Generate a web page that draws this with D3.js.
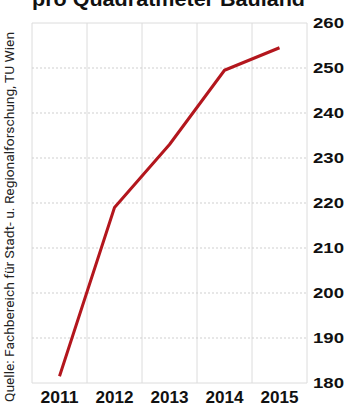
<!DOCTYPE html>
<html>
<head>
<meta charset="utf-8">
<script src="https://cdn.jsdelivr.net/npm/d3@7"></script>
<style>
  html, body { margin: 0; padding: 0; background: #fff; }
  svg { display: block; }
</style>
</head>
<body>
<script>
const years = ["2011", "2012", "2013", "2014", "2015"];
const values = [181.5, 219, 233, 249.5, 254.5];
const yTicks = [180, 190, 200, 210, 220, 230, 240, 250, 260];
const titleText = "pro Quadratmeter Bauland";
const sourceText = "Quelle: Fachbereich für Stadt- u. Regionalforschung, TU Wien";

const W = 348, H = 404;
const plot = { left: 32, right: 307, top: 23, bottom: 383 };

const svg = d3.select("body").append("svg").attr("width", W).attr("height", H);

const x = d3.scaleBand().domain(years).range([plot.left, plot.right]);
const y = d3.scaleLinear().domain([180, 260]).range([plot.bottom, plot.top]);

// vertical grid (band edges)
const edges = years.map(d => x(d)).concat([plot.right]);
svg.append("g").selectAll("line").data(edges).join("line")
  .attr("x1", d => d).attr("x2", d => d)
  .attr("y1", plot.top).attr("y2", plot.bottom)
  .attr("stroke", "#dcdcdc").attr("stroke-width", 1);

// horizontal grid
svg.append("g").selectAll("line").data(yTicks).join("line")
  .attr("x1", plot.left).attr("x2", plot.right)
  .attr("y1", d => y(d)).attr("y2", d => y(d))
  .attr("stroke", d => (d === 180 || d === 260) ? "#dcdcdc" : "#cfcfcf")
  .attr("stroke-dasharray", d => (d === 180 || d === 260) ? null : "2,2")
  .attr("stroke-width", 1);

// right axis labels
const yAxis = d3.axisRight(y).tickValues(yTicks).tickSize(0).tickPadding(0).tickFormat(d3.format("d"));
const ya = svg.append("g").attr("transform", `translate(313,0)`).call(yAxis);
ya.select(".domain").remove();
ya.selectAll("text")
  .attr("font-family", "'Liberation Sans', Arial, sans-serif")
  .attr("font-weight", "900").attr("font-size", 15)
  .attr("fill", "#111")
  .attr("textLength", 31).attr("lengthAdjust", "spacingAndGlyphs");

// bottom axis labels
const xAxis = d3.axisBottom(x).tickSize(0).tickPadding(0);
const xa = svg.append("g").attr("transform", `translate(0,${H - 15})`).call(xAxis);
xa.select(".domain").remove();
xa.selectAll("text")
  .attr("dy", 0).attr("y", 14)
  .attr("font-family", "'Liberation Sans', Arial, sans-serif")
  .attr("font-weight", "900").attr("font-size", 16)
  .attr("fill", "#111")
  .attr("textLength", 38).attr("lengthAdjust", "spacingAndGlyphs");

// line
const line = d3.line()
  .x((d, i) => x(years[i]) + x.bandwidth() / 2)
  .y(d => y(d));
svg.append("path").datum(values)
  .attr("d", line)
  .attr("fill", "none")
  .attr("stroke", "#b3161d")
  .attr("stroke-width", 3)
  .attr("stroke-linejoin", "round");

// title (clipped at top, as in the reference)
svg.append("text")
  .attr("x", 32).attr("y", 6)
  .attr("font-family", "'Liberation Sans', Arial, sans-serif")
  .attr("font-weight", "900").attr("font-size", 21)
  .attr("fill", "#111")
  .attr("textLength", 273).attr("lengthAdjust", "spacingAndGlyphs")
  .text(titleText);

// source (rotated)
svg.append("text")
  .attr("transform", "translate(14,402) rotate(-90)")
  .attr("font-family", "'Liberation Sans Narrow', 'Roboto', Arial, sans-serif")
  .attr("font-size", 13)
  .attr("fill", "#222")
  .attr("textLength", 370).attr("lengthAdjust", "spacingAndGlyphs")
  .text(sourceText);
</script>
</body>
</html>
